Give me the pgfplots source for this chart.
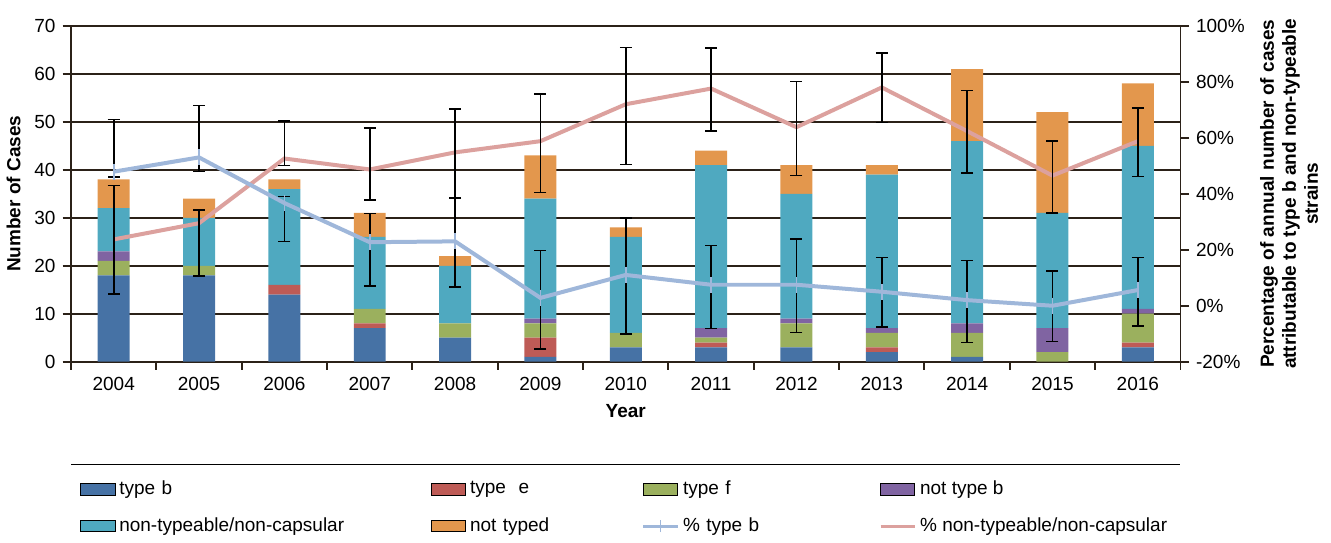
\documentclass[border=0pt]{standalone}
\usepackage{pgfplots}
\pgfplotsset{compat=1.18}
\usepackage{fontspec}
\setmainfont{Liberation Sans}
\definecolor{cb}{HTML}{4672A5}
\definecolor{ce}{HTML}{BE5B56}
\definecolor{cf}{HTML}{9BB05E}
\definecolor{cnb}{HTML}{8064A2}
\definecolor{cnt}{HTML}{4FA9C0}
\definecolor{cnty}{HTML}{E3974D}
\definecolor{lb}{HTML}{9FB7DA}
\definecolor{lnt}{HTML}{DCA19E}
\definecolor{grd}{HTML}{2B2118}
\begin{document}
\begin{tikzpicture}
\begin{axis}[
  scale only axis, width=555pt, height=168pt, clip=false,
  /pgf/number format/assume math mode=true,
  xmin=-0.5, xmax=12.5, ymin=0, ymax=70,
  ybar stacked, bar width=16pt,
  xtick={0,...,12}, xticklabels={2004,2005,2006,2007,2008,2009,2010,2011,2012,2013,2014,2015,2016},
  major x tick style={draw=none},
  minor xtick={-0.5,0.5,...,12.5}, minor x tick style={grd,line width=1pt},
  minor tick length=4pt,
  ytick={0,10,...,70}, ymajorgrids, grid style={grd,line width=1.2pt},
  axis line style={grd,line width=1pt}, tick style={grd,line width=1pt},
  y tick label style={font=\fontsize{9.5}{10}\selectfont},
  x tick label style={font=\fontsize{9.5}{10}\selectfont},
  xlabel={\bfseries Year}, ylabel={\bfseries Number of Cases},
  label style={font=\fontsize{9.5}{10}\selectfont},
  axis y line*=left, axis x line*=bottom,
  tick align=outside,
  legend columns=4,
  legend style={at={(0.5,-0.33)}, anchor=north, draw=none, font=\fontsize{9.5}{10}\selectfont,
    /tikz/every even column/.append style={column sep=2pt},
    /tikz/column 2/.style={text width=152pt},
    /tikz/column 4/.style={text width=82pt},
    /tikz/column 6/.style={text width=94pt},
    row sep=6pt},
  legend cell align=left,
  area legend,
  every axis plot/.append style={draw=none},
]
\addplot[fill=cb] coordinates {(0,18)(1,18)(2,14)(3,7)(4,5)(5,1)(6,3)(7,3)(8,3)(9,2)(10,1)(11,0)(12,3)};
\addlegendentry{type b}
\addplot[fill=ce] coordinates {(0,0)(1,0)(2,2)(3,1)(4,0)(5,4)(6,0)(7,1)(8,0)(9,1)(10,0)(11,0)(12,1)};
\addlegendentry{type\ \ e}
\addplot[fill=cf] coordinates {(0,3)(1,2)(2,0)(3,3)(4,3)(5,3)(6,3)(7,1)(8,5)(9,3)(10,5)(11,2)(12,6)};
\addlegendentry{type f}
\addplot[fill=cnb] coordinates {(0,2)(1,0)(2,0)(3,0)(4,0)(5,1)(6,0)(7,2)(8,1)(9,1)(10,2)(11,5)(12,1)};
\addlegendentry{not type b}
\addplot[fill=cnt] coordinates {(0,9)(1,10)(2,20)(3,15)(4,12)(5,25)(6,20)(7,34)(8,26)(9,32)(10,38)(11,24)(12,34)};
\addlegendentry{non-typeable/non-capsular}
\addplot[fill=cnty] coordinates {(0,6)(1,4)(2,2)(3,5)(4,2)(5,9)(6,2)(7,3)(8,6)(9,2)(10,15)(11,21)(12,13)};
\addlegendentry{not typed}
\addlegendimage{legend image code/.code={\draw[lb,line width=1.5pt] (0cm,0cm) -- (0.6cm,0cm); \draw[lb,line width=0.6pt] (0.3cm,-3pt) -- (0.3cm,3pt);}}
\addlegendentry{\% type b}
\addlegendimage{legend image code/.code={\draw[lnt,line width=1.5pt] (0cm,0cm) -- (0.6cm,0cm);}}
\addlegendentry{\% non-typeable/non-capsular}
\draw[black, line width=0.6pt] (rel axis cs:0,-0.305) -- (rel axis cs:1,-0.305);
\end{axis}
\begin{axis}[
  scale only axis, width=555pt, height=168pt,
  /pgf/number format/assume math mode=true,
  xmin=-0.5, xmax=12.5, ymin=-20, ymax=100,
  axis y line*=right, axis x line=none,
  ytick={-20,0,...,100}, yticklabel={\pgfmathprintnumber{\tick}\%},
  y tick label style={font=\fontsize{9.5}{10}\selectfont},
  tick align=outside, tick style={grd,line width=1pt}, axis line style={grd,line width=1pt},
  ylabel={\bfseries\begin{tabular}{c}Percentage of annual number of cases\\attributable to type b and non-typeable\\strains\end{tabular}},
  ylabel style={font=\fontsize{9.5}{11}\selectfont},
  error bars/y dir=both, error bars/y explicit,
  error bars/error bar style={black, line width=0.8pt},
  error bars/error mark options={rotate=90, mark size=3pt, black, line width=0.8pt},
]
\addplot[lnt, line width=2pt, mark=none] coordinates {
(0,23.7) += (0,19.2) -= (0,19.4)
(1,29.5) += (0,4.7) -= (0,18.9)
(2,52.6) += (0,13.4) -= (0,2.5)
(3,48.7) += (0,14.9) -= (0,10.9)
(4,54.8) += (0,15.6) -= (0,16.3)
(5,58.8) += (0,16.9) -= (0,18.3)
(6,72) += (0,20.3) -= (0,21.5)
(7,77.6) += (0,14.4) -= (0,15.2)
(8,63.8) += (0,16.3) -= (0,17.3)
(9,78) += (0,12.3) -= (0,12.5)
(10,62.4) += (0,14.5) -= (0,14.9)
(11,46.5) += (0,12.3) -= (0,13.3)
(12,58.8) += (0,11.8) -= (0,12.6)};
\addplot[lb, line width=2pt, mark=|, mark size=4pt, mark options={line width=0.8pt}] coordinates {
(0,47.9) += (0,18.7) -= (0,1.9)
(1,53) += (0,18.5) -= (0,5.1)
(2,36.7) += (0,2.3) -= (0,13.7)
(3,22.7) += (0,10.3) -= (0,15.6)
(4,23) += (0,15.5) -= (0,16.3)
(5,2.8) += (0,17) -= (0,18.2)
(6,11) += (0,20.4) -= (0,21.1)
(7,7.5) += (0,14) -= (0,15.6)
(8,7.5) += (0,16.3) -= (0,17)
(9,5) += (0,12.2) -= (0,12.7)
(10,2) += (0,14.1) -= (0,15.2)
(11,0) += (0,12.5) -= (0,12.8)
(12,5.6) += (0,11.7) -= (0,12.8)};
\end{axis}
\end{tikzpicture}
\end{document}
